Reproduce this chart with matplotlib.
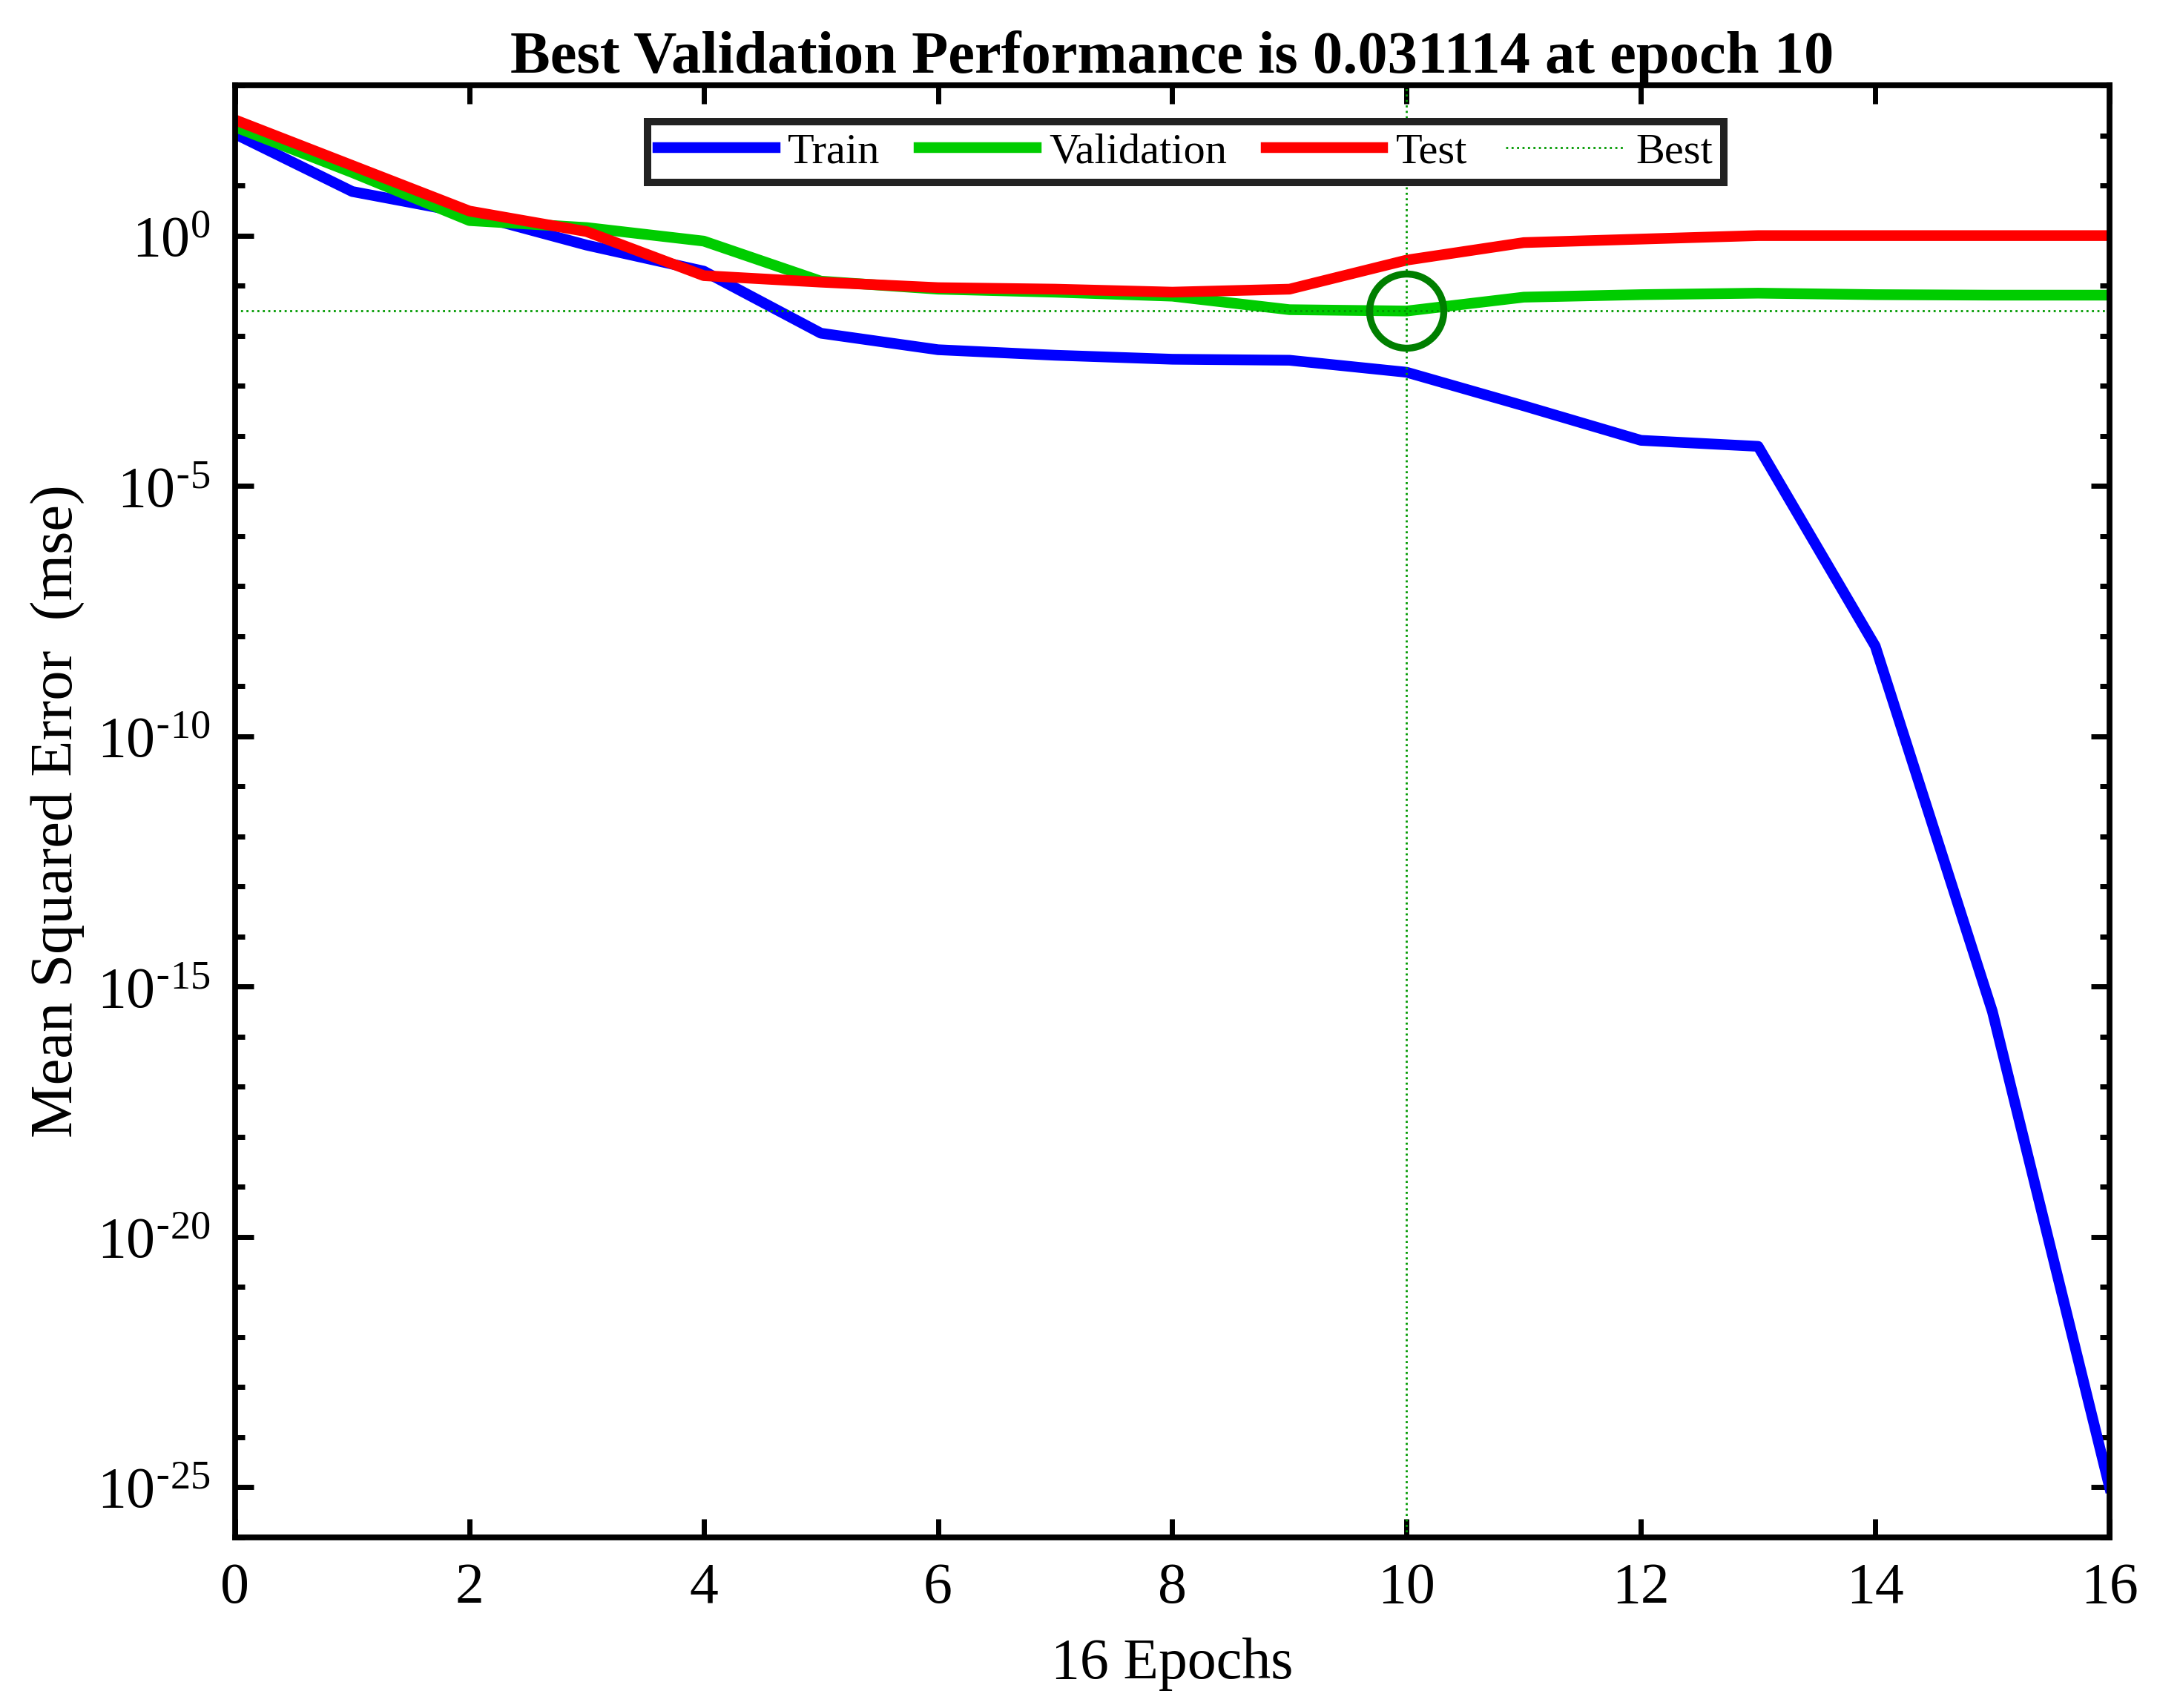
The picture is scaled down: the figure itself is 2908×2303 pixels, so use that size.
import numpy as np
import matplotlib
matplotlib.use("Agg")
import matplotlib.pyplot as plt
from matplotlib.ticker import FixedLocator, FixedFormatter, NullFormatter

# log10 of mse per epoch
epochs = np.arange(0, 17)
train_log = [2.03, 0.88, 0.44, -0.19, -0.71, -1.95, -2.28, -2.39, -2.47, -2.49,
             -2.73, -3.40, -4.09, -4.21, -8.20, -15.5, -25.0]
val_log = [2.17, 1.26, 0.30, 0.16, -0.11, -0.91, -1.07, -1.13, -1.21, -1.48,
           -1.507, -1.23, -1.18, -1.15, -1.18, -1.19, -1.19]
test_log = [2.31, 1.40, 0.49, 0.08, -0.80, -0.93, -1.04, -1.07, -1.13, -1.07,
            -0.49, -0.14, -0.07, 0.0, 0.0, 0.0, 0.0]
best_epoch = 10
best_perf = 0.031114

xticks = list(range(0, 17, 2))
ytick_exp = [0, -5, -10, -15, -20, -25]

plt.rcParams['font.family'] = ['Liberation Serif', 'DejaVu Serif']
plt.rcParams['mathtext.default'] = 'regular'
plt.rcParams['axes.unicode_minus'] = False


def exp_label(e):
    # hyphen instead of a math minus, like the original
    s = str(e).replace('-', r'\text{-}')
    return r'$10^{%s}$' % s


fig = plt.figure(figsize=(14.54, 11.515), dpi=200)
ax = fig.add_axes([0.109, 0.100, 0.869, 0.850])

train = 10.0 ** np.array(train_log)
val = 10.0 ** np.array(val_log)
test = 10.0 ** np.array(test_log)

ax.semilogy(epochs, train, color='#0000ff', lw=5.2, label='Train')
ax.semilogy(epochs, val, color='#00cc00', lw=5.2, label='Validation')
ax.semilogy(epochs, test, color='#ff0000', lw=5.2, label='Test')
ax.axvline(best_epoch, color='#009900', lw=1.0, ls=':', label='Best')
ax.axhline(best_perf, color='#009900', lw=1.0, ls=':')
ax.plot([best_epoch], [best_perf], 'o', ms=36, mfc='none', mec='#007f00', mew=3.4)

ax.set_xlim(0, 16)
ax.set_ylim(1e-26, 1e3)
ax.set_xticks(xticks)
ax.set_xticklabels([str(t) for t in xticks])
ax.yaxis.set_major_locator(FixedLocator([10.0 ** e for e in ytick_exp]))
ax.yaxis.set_major_formatter(FixedFormatter([exp_label(e) for e in ytick_exp]))
ax.yaxis.set_minor_locator(FixedLocator([10.0 ** e for e in range(-26, 4)]))
ax.yaxis.set_minor_formatter(NullFormatter())
ax.xaxis.set_minor_locator(FixedLocator([]))

ax.tick_params(which='both', direction='in', top=True, right=True, width=2.5,
               labelsize=28, pad=12)
ax.tick_params(which='major', length=9)
ax.tick_params(which='minor', length=4.7)
for s in ax.spines.values():
    s.set_linewidth(2.8)

ax.set_title('Best Validation Performance is 0.031114 at epoch 10',
             fontsize=29, fontweight='bold', pad=6)
ax.set_xlabel('16 Epochs', fontsize=28, labelpad=11)
ax.set_ylabel('Mean Squared Error  (mse)', fontsize=29, labelpad=6)

leg = ax.legend(loc='upper center', bbox_to_anchor=(0.507, 0.99), ncol=4,
                fontsize=21, handlelength=2.7, columnspacing=0.9,
                handletextpad=0.3, fancybox=False, framealpha=1,
                borderpad=0.25)
leg.get_frame().set_edgecolor('#222222')
leg.get_frame().set_linewidth(3.6)

fig.savefig('out.png', dpi=200, facecolor='white')
